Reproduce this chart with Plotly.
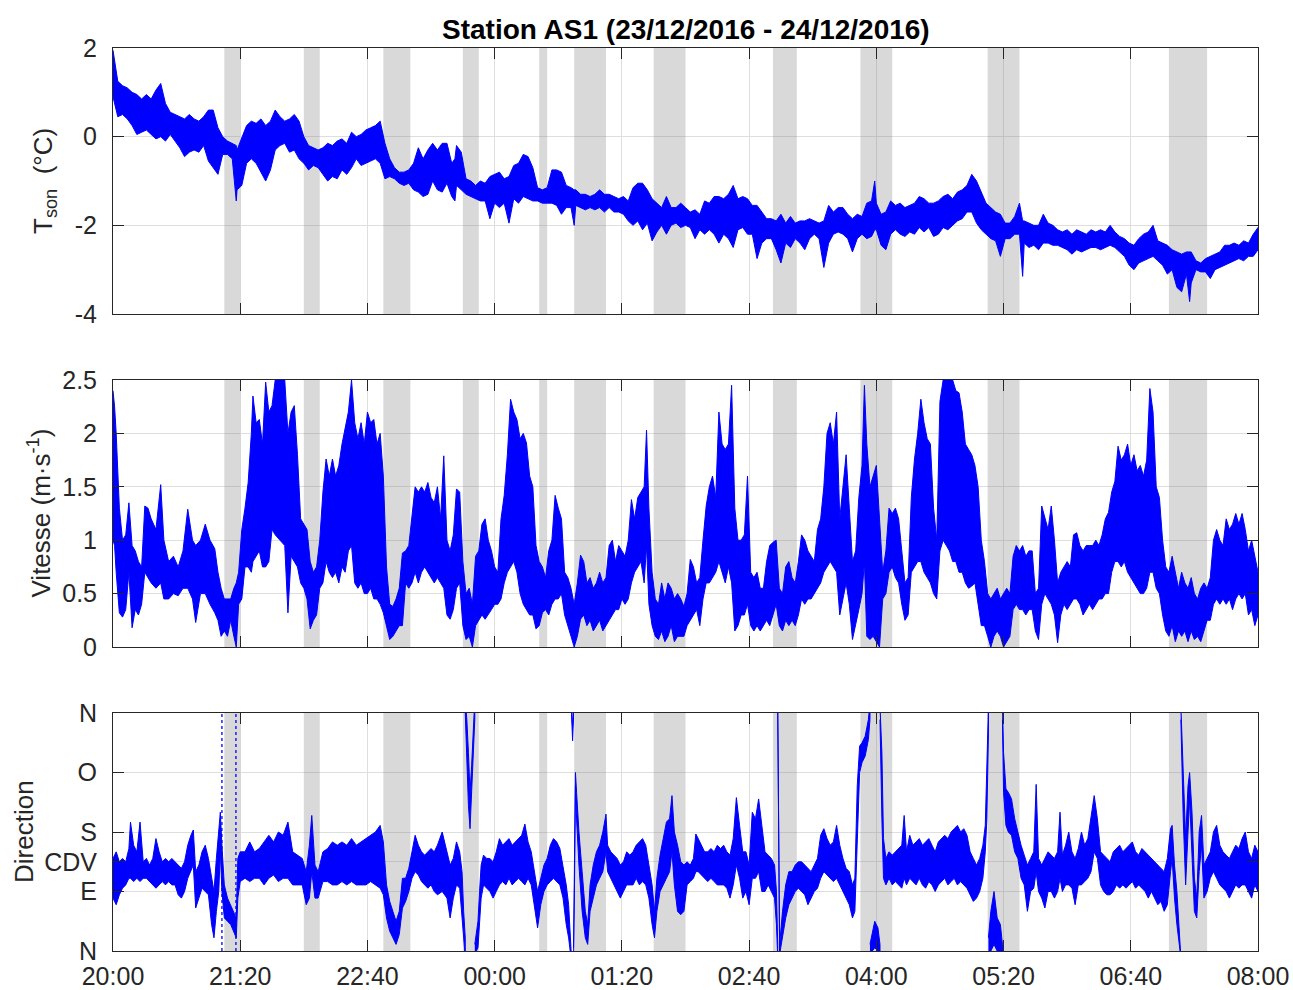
import plotly.graph_objects as go

# ---------------- data ----------------
# time in minutes after 20:00 (23/12/2016)
tick_minutes = [0, 80, 160, 240, 320, 400, 480, 560, 640, 720]
tick_labels = ["20:00", "21:20", "22:40", "00:00", "01:20", "02:40", "04:00", "05:20", "06:40", "08:00"]

# grey periods (minutes after 20:00)
gap_start = [70, 120, 170, 220, 268, 290, 340, 415, 470, 550, 664]
gap_end = [80, 130, 187, 230, 273, 310, 360, 430, 490, 570, 688]

# sonic temperature envelope (deg C)
temp_t = [0, 3, 6, 9, 12, 15, 18, 21, 24, 27,
          30, 33, 36, 39, 42, 45, 48, 51, 54, 57,
          60, 63, 66, 69, 72, 75, 77.5, 78, 81, 84,
          87, 90, 93, 96, 99, 102, 105, 108, 111, 114,
          117, 120, 123, 126, 129, 132, 135, 138, 141, 144,
          147, 150, 153, 156, 159, 162, 165, 168, 171, 174,
          177, 180, 183, 186, 189, 192, 195, 198, 201, 204,
          207, 210, 213, 215, 216, 219, 222, 225, 228, 231,
          234, 237, 240, 243, 246, 249, 252, 255, 258, 261,
          264, 267, 270, 273, 276, 279, 282, 285, 288, 290,
          291, 294, 297, 300, 303, 306, 309, 312, 315, 318,
          321, 324, 327, 330, 333, 336, 339, 342, 345, 348,
          351, 354, 357, 360, 363, 366, 369, 372, 375, 378,
          381, 384, 387, 390, 393, 396, 399, 402, 405, 408,
          411, 414, 417, 420, 423, 426, 429, 432, 435, 438,
          441, 444, 447, 450, 453, 456, 459, 462, 465, 468,
          471, 474, 477, 479, 480, 483, 486, 489, 492, 495,
          498, 501, 504, 507, 510, 513, 516, 519, 522, 525,
          528, 531, 534, 537, 540, 543, 546, 549, 552, 555,
          558, 561, 564, 567, 570, 572, 573, 576, 579, 582,
          585, 588, 591, 594, 597, 600, 603, 606, 609, 612,
          615, 618, 621, 624, 627, 630, 633, 636, 639, 642,
          645, 648, 651, 654, 657, 660, 663, 666, 669, 672,
          675, 677, 678, 681, 684, 687, 690, 693, 696, 699,
          702, 705, 708, 711, 714, 717, 720]
temp_lo = [0.9, 0.45, 0.5, 0.4, 0.25, 0.05, 0.1, 0.15, 0.05, -0.05,
           0.0, -0.1, 0.05, -0.1, -0.25, -0.45, -0.35, -0.3, -0.35, -0.2,
           -0.55, -0.7, -0.85, -0.4, -0.4, -0.5, -1.45, -1.2, -1.1, -0.6,
           -0.5, -0.6, -0.8, -1.0, -0.75, -0.3, -0.2, -0.15, -0.35, -0.3,
           -0.5, -0.6, -0.75, -0.65, -0.7, -0.85, -1.0, -0.9, -0.95, -0.75,
           -0.85, -0.7, -0.5, -0.65, -0.6, -0.55, -0.5, -0.6, -0.95, -0.9,
           -0.95, -1.05, -1.1, -1.05, -1.2, -1.25, -1.35, -1.3, -1.0, -1.2,
           -1.25, -1.05, -1.35, -1.45, -1.1, -1.2, -1.3, -1.35, -1.4, -1.45,
           -1.45, -1.85, -1.5, -1.6, -1.5, -1.95, -1.4, -1.5, -1.35, -1.4,
           -1.45, -1.45, -1.5, -1.5, -1.5, -1.55, -1.75, -1.6, -1.6, -2.0,
           -1.55, -1.6, -1.65, -1.6, -1.65, -1.6, -1.7, -1.6, -1.7, -1.7,
           -1.75, -1.9, -2.0, -1.9, -2.1, -1.95, -2.35, -2.15, -2.0, -2.2,
           -2.0, -1.95, -2.05, -2.0, -2.05, -2.3, -2.1, -2.2, -2.1, -2.2,
           -2.4, -2.2, -2.3, -2.5, -2.1, -2.05, -2.2, -2.2, -2.75, -2.4,
           -2.3, -2.3, -2.55, -2.85, -2.4, -2.5, -2.3, -2.4, -2.55, -2.3,
           -2.2, -2.3, -2.95, -2.4, -2.2, -2.15, -2.2, -2.3, -2.6, -2.3,
           -2.2, -2.3, -2.25, -2.1, -2.1, -2.45, -2.55, -2.2, -2.1, -2.2,
           -2.25, -2.15, -2.2, -2.05, -2.15, -2.05, -2.25, -2.2, -2.05, -2.1,
           -2.0, -1.9, -1.85, -1.7, -1.7, -1.95, -2.1, -2.2, -2.3, -2.35,
           -2.7, -2.3, -2.3, -2.2, -2.2, -3.15, -2.4, -2.5, -2.45, -2.55,
           -2.4, -2.4, -2.45, -2.45, -2.5, -2.55, -2.65, -2.55, -2.6, -2.55,
           -2.5, -2.5, -2.55, -2.5, -2.45, -2.5, -2.6, -2.7, -2.9, -3.0,
           -2.85, -2.8, -2.75, -2.7, -2.8, -2.9, -3.1, -3.0, -3.4, -3.5,
           -3.1, -3.72, -3.3, -3.0, -3.05, -3.05, -3.2, -3.0, -2.95, -2.9,
           -2.85, -2.8, -2.75, -2.8, -2.7, -2.7, -2.55]
temp_hi = [1.95, 1.25, 1.15, 1.1, 1.0, 0.95, 0.85, 0.95, 0.85, 1.05,
           1.2, 0.75, 0.55, 0.5, 0.45, 0.4, 0.5, 0.4, 0.35, 0.45,
           0.6, 0.6, 0.2, 0.0, -0.1, -0.15, -0.2, -0.3, 0.0, 0.25,
           0.35, 0.3, 0.4, 0.25, 0.35, 0.6, 0.45, 0.35, 0.4, 0.5,
           0.35, 0.0, -0.2, -0.25, -0.3, -0.25, -0.15, -0.2, -0.1, -0.05,
           -0.15, 0.1, 0.0, 0.05, 0.15, 0.2, 0.25, 0.35, -0.15, -0.5,
           -0.7, -0.8, -0.8, -0.75, -0.6, -0.25, -0.5, -0.3, -0.15, -0.3,
           -0.15, -0.15, -0.6, -0.5, -0.2, -0.35, -0.95, -1.0, -1.1, -1.0,
           -1.05, -0.9, -0.85, -0.8, -0.95, -0.9, -0.65, -0.6, -0.4, -0.45,
           -0.7, -1.15, -1.2, -1.15, -0.75, -0.75, -0.8, -1.1, -1.15, -1.2,
           -1.2, -1.3, -1.3, -1.35, -1.3, -1.2, -1.3, -1.3, -1.35, -1.4,
           -1.35, -1.45, -1.15, -1.05, -1.05, -1.2, -1.4, -1.5, -1.6, -1.35,
           -1.6, -1.6, -1.5, -1.6, -1.7, -1.65, -1.75, -1.45, -1.5, -1.35,
           -1.35, -1.4, -1.3, -1.1, -1.4, -1.35, -1.4, -1.55, -1.55, -1.7,
           -1.85, -1.85, -1.9, -1.75, -1.95, -1.8, -1.95, -1.9, -1.9, -1.85,
           -1.9, -1.95, -1.9, -1.55, -1.7, -1.6, -1.6, -1.75, -1.85, -1.75,
           -1.8, -1.5, -1.45, -1.0, -1.5, -1.75, -1.7, -1.45, -1.55, -1.5,
           -1.6, -1.55, -1.5, -1.35, -1.4, -1.5, -1.5, -1.45, -1.35, -1.3,
           -1.4, -1.25, -1.2, -1.1, -0.85, -1.0, -1.25, -1.5, -1.6, -1.7,
           -1.75, -1.95, -1.95, -1.8, -1.5, -1.9, -1.9, -1.95, -2.0, -2.0,
           -1.75, -1.95, -2.0, -2.1, -2.15, -2.1, -2.2, -2.1, -2.15, -2.2,
           -2.1, -2.15, -2.1, -2.15, -2.0, -2.15, -2.25, -2.3, -2.4, -2.45,
           -2.3, -2.2, -2.15, -2.0, -2.35, -2.4, -2.45, -2.55, -2.6, -2.65,
           -2.6, -2.6, -2.6, -2.8, -2.85, -2.75, -2.7, -2.65, -2.6, -2.45,
           -2.45, -2.4, -2.45, -2.35, -2.4, -2.2, -2.05]

# wind speed envelope (m/s)
speed_t = [0, 1, 2, 4, 6, 8, 10, 12, 14, 16,
           18, 20, 22, 24, 27, 30, 32, 35, 38, 41,
           44, 47, 50, 52, 55, 58, 61, 64, 66, 68,
           70, 72, 74, 76, 77.5, 79, 81, 83, 85, 87,
           88, 90, 92, 94, 96, 98, 100, 102, 105, 108,
           110, 112, 114, 116, 118, 120, 122, 124, 126, 128,
           130, 132, 134, 136, 138, 140, 142, 144, 146, 148,
           150, 152, 154, 156, 158, 160, 162, 164, 166, 168,
           170, 172, 174, 176, 178, 180, 182, 184, 186, 188,
           190, 192, 194, 196, 198, 200, 202, 204, 206, 208,
           210, 212, 214, 216, 218, 220, 222, 224, 226, 228,
           230, 232, 234, 236, 238, 240, 242, 244, 246, 248,
           250, 252, 254, 256, 258, 260, 262, 264, 266, 268,
           270, 272, 274, 276, 278, 280, 282, 284, 286, 288,
           290, 292, 294, 296, 298, 300, 302, 304, 306, 308,
           310, 312, 314, 316, 318, 320, 322, 324, 326, 328,
           330, 332, 334, 335.5, 337, 339, 341, 343, 345, 347,
           349, 351, 353, 355, 357, 359, 361, 363, 365, 367,
           369, 371, 373, 375, 377, 379, 381, 383, 385, 387,
           389, 391, 393, 395, 397, 399, 401, 403, 405, 407,
           409, 411, 413, 415, 417, 419, 421, 423, 425, 427,
           429, 431, 433, 435, 437, 439, 441, 443, 445, 447,
           449, 451, 453, 455, 457, 459, 461, 463, 465, 467,
           469, 471, 472.5, 474, 476, 478, 480, 482, 484, 486,
           488, 490, 492, 494, 496, 498, 500, 502, 504, 506,
           508, 510, 512, 514, 516, 518, 520, 522, 524, 526,
           528, 530, 532, 534, 536, 538, 540, 542, 544, 546,
           548, 550, 552, 554, 556, 558, 560, 562, 564, 566,
           568, 570, 572, 574, 576, 578, 580, 582, 584, 586,
           588, 590, 592, 594, 596, 598, 600, 602, 604, 606,
           608, 610, 612, 614, 616, 618, 620, 622, 624, 626,
           628, 630, 632, 634, 636, 638, 640, 642, 644, 646,
           648, 650, 652, 654, 656, 658, 660, 662, 664, 666,
           668, 670, 672, 674, 676, 678, 680, 682, 684, 686,
           688, 690, 692, 694, 696, 698, 700, 702, 704, 706,
           708, 710, 712, 714, 716, 718, 720]
speed_lo = [1.0, 0.95, 0.7, 0.32, 0.28, 0.35, 0.7, 0.18, 0.35, 0.3,
            0.4, 0.7, 0.65, 0.6, 0.55, 0.6, 0.45, 0.45, 0.5, 0.48,
            0.55, 0.55, 0.45, 0.23, 0.5, 0.5, 0.4, 0.32, 0.25, 0.1,
            0.15, 0.1, 0.25, 0.1, 0.0, 0.4, 0.45, 0.75, 0.75, 0.7,
            0.8, 0.85, 0.9, 0.75, 0.75, 0.8, 1.1, 1.05, 1.0, 0.95,
            0.32, 0.85, 0.8, 0.75, 0.6, 0.55, 0.45, 0.17, 0.25, 0.3,
            0.55, 0.6, 0.8, 0.7, 0.65, 0.7, 0.6, 0.75, 0.7, 0.9,
            0.95, 0.6, 0.55, 0.6, 0.5, 0.5, 0.55, 0.45, 0.45, 0.4,
            0.32, 0.2, 0.07, 0.1, 0.15, 0.2, 0.2, 0.6, 0.55, 0.6,
            0.7, 0.6, 0.7, 0.75, 0.7, 0.65, 0.6, 0.65, 0.6, 0.55,
            0.3, 0.26, 0.35, 0.55, 0.6, 0.2, 0.07, 0.1, 0.0, 0.2,
            0.25, 0.3, 0.26, 0.3, 0.35, 0.4, 0.4, 0.45, 0.6, 0.7,
            0.75, 0.8, 0.7, 0.5, 0.4, 0.35, 0.3, 0.3, 0.17, 0.2,
            0.32, 0.35, 0.3, 0.4, 0.45, 0.45, 0.5, 0.3, 0.2, 0.1,
            0.0, 0.1, 0.26, 0.3, 0.2, 0.25, 0.15, 0.2, 0.25, 0.15,
            0.2, 0.25, 0.3, 0.35, 0.35, 0.45, 0.4, 0.45, 0.6, 0.7,
            0.75, 0.8, 0.6, 0.95, 0.4, 0.2, 0.1, 0.07, 0.15, 0.05,
            0.1, 0.2, 0.05, 0.1, 0.1, 0.1, 0.2, 0.25, 0.3, 0.35,
            0.2, 0.45, 0.6, 0.6, 0.65, 0.7, 0.8, 0.7, 0.6, 0.75,
            0.6, 0.15, 0.2, 0.3, 0.3, 0.4, 0.2, 0.15, 0.2, 0.15,
            0.2, 0.25, 0.2, 0.3, 0.4, 0.2, 0.15, 0.25, 0.2, 0.25,
            0.2, 0.3, 0.45, 0.4, 0.45, 0.45, 0.5, 0.55, 0.6, 0.7,
            0.75, 0.8, 0.75, 0.7, 0.3, 0.45, 0.6, 0.4, 0.07, 0.2,
            0.35, 0.5, 0.8, 0.1, 0.07, 0.1, 0.05, 0.0, 0.45, 0.5,
            0.7, 0.75, 0.65, 0.6, 0.4, 0.25, 0.3, 0.7, 0.75, 0.8,
            0.8, 0.7, 0.65, 0.6, 0.5, 0.45, 0.9, 1.0, 0.95, 0.9,
            0.8, 0.8, 0.7, 0.7, 0.6, 0.55, 0.57, 0.6, 0.4, 0.2,
            0.2, 0.1, 0.0, 0.1, 0.15, 0.1, 0.0, 0.05, 0.1, 0.35,
            0.4, 0.35, 0.35, 0.3, 0.35, 0.35, 0.15, 0.07, 0.4, 0.5,
            0.45, 0.4, 0.3, 0.04, 0.3, 0.4, 0.35, 0.4, 0.45, 0.45,
            0.4, 0.3, 0.35, 0.4, 0.35, 0.4, 0.45, 0.45, 0.5, 0.5,
            0.7, 0.8, 0.8, 0.75, 0.8, 0.7, 0.65, 0.6, 0.55, 0.5,
            0.5, 0.55, 0.7, 0.7, 0.55, 0.5, 0.3, 0.15, 0.1, 0.2,
            0.05, 0.15, 0.1, 0.15, 0.05, 0.15, 0.07, 0.1, 0.05, 0.15,
            0.25, 0.25, 0.4, 0.45, 0.4, 0.45, 0.4, 0.45, 0.35, 0.45,
            0.5, 0.45, 0.5, 0.3, 0.35, 0.2, 0.3]
speed_hi = [2.4, 2.25, 2.0, 1.3, 1.0, 1.05, 1.35, 0.95, 0.9, 0.8,
            0.75, 1.32, 1.3, 1.2, 1.1, 1.52, 1.0, 0.8, 0.85, 0.75,
            0.9, 1.29, 1.0, 0.95, 1.0, 1.15, 1.0, 0.92, 0.7, 0.55,
            0.45, 0.45, 0.45, 0.55, 0.6, 0.7, 1.1, 1.3, 1.54, 2.0,
            2.35, 2.1, 2.13, 1.9, 2.48, 2.2, 2.26, 2.5, 2.5, 2.5,
            2.0, 2.2, 2.26, 1.8, 1.2, 1.15, 1.1, 0.8, 0.7, 0.75,
            1.0, 1.45, 1.76, 1.6, 1.76, 1.6, 1.7, 1.9, 2.04, 2.2,
            2.5, 2.1, 1.95, 2.1, 1.9, 2.2, 2.1, 2.13, 1.9, 2.0,
            1.6, 0.75, 0.4, 0.38, 0.45, 0.55, 0.88, 0.9, 0.95, 1.2,
            1.5, 1.45, 1.5, 1.45, 1.54, 1.4, 1.35, 1.5, 1.2, 1.79,
            1.0, 0.9, 1.05, 1.48, 1.45, 0.8, 0.5, 0.55, 0.4, 0.85,
            0.9, 1.15, 1.2, 1.0, 0.9, 0.75, 0.7, 1.2, 1.42, 1.8,
            2.32, 2.2, 2.13, 1.95, 2.0, 1.91, 1.6, 1.5, 0.95, 0.8,
            0.75, 0.65, 0.9, 1.0, 1.42, 1.3, 1.2, 0.7, 0.65, 0.55,
            0.4, 0.6, 0.86, 0.8, 0.6, 0.65, 0.55, 0.6, 0.7, 0.6,
            0.65, 0.95, 1.0, 0.8, 0.95, 0.9, 0.85, 1.0, 1.38, 1.2,
            1.4, 1.45, 1.5, 2.03, 1.3, 0.7, 0.45, 0.4, 0.6, 0.45,
            0.6, 0.55, 0.45, 0.5, 0.45, 0.38, 0.5, 0.82, 0.75, 0.6,
            0.65, 1.0, 1.32, 1.5, 1.6, 1.4, 2.2, 1.9, 1.85, 1.9,
            2.45, 1.3, 1.0, 1.0, 1.05, 1.6, 0.7, 0.65, 0.7, 0.55,
            0.55, 0.8, 0.95, 0.98, 1.0, 0.55, 0.5, 0.75, 0.8, 0.65,
            0.6, 0.8, 1.05, 1.0, 0.9, 0.85, 0.8, 1.1, 1.2, 1.5,
            2.0, 2.1, 1.9, 2.2, 1.2, 1.5, 1.8, 1.3, 0.8, 0.9,
            1.4, 1.7, 2.45, 1.9, 1.5, 1.6, 1.7, 1.2, 0.7, 0.9,
            1.3, 1.25, 1.3, 1.2, 0.9, 0.6, 0.65, 1.4, 1.76, 2.0,
            2.32, 2.1, 1.95, 1.9, 1.3, 1.0, 2.3, 2.5, 2.5, 2.5,
            2.5, 2.4, 2.38, 2.2, 1.9, 1.85, 1.8, 1.7, 1.5, 1.0,
            0.8, 0.5, 0.45, 0.5, 0.55, 0.45, 0.5, 0.55, 0.5, 0.85,
            0.95, 0.9, 0.95, 0.85, 0.9, 0.9, 0.5, 0.55, 1.32, 1.2,
            1.1, 1.32, 1.0, 0.6, 0.7, 0.75, 0.8, 0.75, 1.05, 1.07,
            0.95, 0.9, 0.95, 0.95, 0.95, 1.0, 0.95, 1.05, 1.2, 1.26,
            1.45, 1.55, 1.88, 1.75, 1.8, 1.9, 1.7, 1.8, 1.65, 1.7,
            1.6, 1.75, 2.42, 2.2, 1.5, 1.4, 1.0, 0.75, 0.7, 0.85,
            0.7, 0.55, 0.7, 0.6, 0.55, 0.65, 0.5, 0.45, 0.55, 0.6,
            0.55, 0.65, 1.0, 1.1, 1.0, 0.95, 1.2, 1.1, 1.15, 1.25,
            1.15, 1.25, 1.1, 0.9, 1.0, 0.85, 0.7]

# wind direction envelope (deg, 0 = N, 90 = E, 180 = S, 270 = O); None = wrap break
dir_t = [0, 2, 4, 6, 8, 10, 11, 13, 15, 17,
         19, 21, 23, 25, 27, 29, 31, 33, 35, 37,
         39, 41, 43, 45, 47, 49, 50.5, 52, 54, 56,
         58, 60, 62, 63.5, 65, 66.5, 67.5, 68.5, 70, 72,
         74, 76, 77.5, 78.5, 80, 83, 86, 89, 92, 95,
         98, 101, 104, 107, 110, 113, 116, 119, 121.5, 123.5,
         125, 127, 129, 132, 135, 138, 141, 144, 147, 150,
         153, 156, 159, 162, 165, 168, 170, 172, 174, 176,
         178, 180, 182, 184, 186, 188, 190, 192, 194, 196,
         198, 200, 202, 204, 207, 210, 212, 214, 216, 218,
         219.5, 220.5, 221.5, None,
         221.5, 222.5, 223.5, 224.5, 225.5, 226.5, 227.5, None,
         227.5, 228.5, 229.5, 230.5, 231.5, 233, 235, 237, 239, 241,
         243, 245, 247, 249, 251, 253, 255, 257, 259, 261,
         263, 265, 267, 269, 271, 273, 275, 277, 279, 281,
         283, 285, 286.5, 287.5, 288.3, None,
         288.3, 289, 289.6, None,
         289.6, 290.2, 290.8, 291.5, 293, 295, 297, 298.5, 300, 302,
         304, 306, 308, 310, 311, 313, 315, 317, 319, 321,
         323, 325, 327, 329, 331, 333, 335, 337, 339, 340.5,
         342, 344, 346, 348, 350, 351.5, 353, 355, 357, 359,
         361, 363, 365, 366.5, 368, 370, 372, 374, 376, 378,
         380, 382, 384, 386, 388, 390, 392, 394, 396, 398,
         400, 402, 404, 406, 408, 410, 412, 414, 416, 417.2,
         418, None,
         418, 419.2, None,
         419.2, 421, 423, 425, 427, 429, 431, 433, 435, 437,
         439, 441, 443, 445, 447, 449, 451, 453, 455, 457,
         459, 461, 463, 465, 466.5, 468, 469.5, 471, 473, 475,
         476, None,
         476, 477.5, 479, 481, 482.3, None,
         482.3, 483.5, 484.5, 486, 488, 490, 492, 494, 496, 497.5,
         499, 501, 503, 505, 507, 509, 511, 513, 515, 517,
         519, 521, 523, 525, 527, 529, 531, 533, 535, 537,
         539, 541, 543, 545, 547, 548.5, 549.5, 550.5, None,
         550.5, 552, 554, 556, 558, 559.3, None,
         559.3, 560, 561.5, 563, 565, 567, 569, 571, 573, 575,
         577, 579, 580.5, 582, 584, 586, 588, 590, 592, 594,
         595.5, 597, 599, 601, 603, 605, 607, 609, 611, 613,
         615, 617, 619, 621, 623, 625, 627, 629, 631, 633,
         635, 637, 639, 641, 643, 645, 647, 649, 651, 653,
         655, 657, 659, 661, 663, 665, 666, 667.5, 669, 670.5,
         671.5, None,
         671.5, 673, 674.5, 676, 677, 678.5, 680, 681.5, 683, 684.5,
         686, 688, 690, 692, 694, 696, 698, 700, 702, 704,
         706, 708, 710, 712, 714, 716, 718, 720]
dir_lo = [80, 70, 85, 95, 100, 110, 110, 105, 110, 105,
          110, 110, 105, 100, 95, 100, 105, 100, 105, 100,
          100, 85, 80, 90, 110, 120, 130, 65, 80, 95,
          90, 85, 40, 20, 60, 90, 150, 90, 50, 45,
          40, 30, 20, 80, 105, 110, 105, 110, 110, 100,
          110, 115, 105, 110, 110, 100, 100, 100, 70, 80,
          120, 80, 80, 105, 105, 100, 100, 105, 100, 105,
          100, 100, 100, 105, 100, 95, 85, 50, 30, 20,
          10, 25, 65, 75, 90, 110, 120, 115, 105, 100,
          95, 100, 90, 85, 90, 80, 50, 80, 100, 95,
          60, 20, -10, None,
          360, 300, 220, 185, 220, 290, 350, None,
          -20, 0, 5, 40, 80, 100, 95, 90, 80, 90,
          100, 105, 100, 110, 100, 105, 110, 105, 100, 110,
          100, 70, 35, 70, 90, 100, 105, 110, 105, 100,
          80, 40, 20, 0, -10, None,
          360, 318, 355, None,
          -10, 100, 250, 200, 130, 60, 20, 10, 60, 80,
          100, 110, 120, 150, 120, 110, 100, 90, 80, 90,
          100, 100, 100, 110, 100, 105, 100, 80, 40, 20,
          60, 90, 100, 110, 120, 150, 100, 60, 55, 60,
          100, 105, 110, 120, 120, 115, 110, 105, 110, 105,
          100, 100, 100, 95, 80, 100, 130, 110, 80, 90,
          70, 110, 110, 120, 90, 90, 100, 90, 80, 40,
          -10, None,
          360, -5, None,
          -5, 20, 50, 70, 80, 90, 95, 90, 85, 70,
          80, 90, 95, 110, 120, 115, 110, 105, 110, 100,
          90, 80, 70, 50, 60, 160, 270, 285, 295, 320,
          350, None,
          -15, 0, 5, 0, -10, None,
          350, 200, 110, 100, 110, 100, 105, 100, 95, 110,
          100, 110, 105, 100, 110, 100, 95, 105, 100, 90,
          100, 105, 110, 100, 105, 110, 100, 105, 100, 95,
          85, 75, 80, 90, 110, 150, 200, 330, None,
          -10, 0, 10, 0, 0, -10, None,
          350, 240, 190, 180, 175, 150, 140, 110, 100, 60,
          90, 95, 120, 90, 80, 65, 90, 90, 80, 90,
          110, 90, 100, 100, 95, 70, 100, 100, 105, 110,
          120, 150, 140, 100, 90, 85, 85, 90, 100, 95,
          100, 95, 100, 105, 95, 100, 95, 90, 80, 90,
          80, 70, 75, 60, 70, 120, 140, 80, 40, 10,
          -10, None,
          350, 200, 100, 180, 230, 150, 60, 50, 120, 160,
          80, 90, 110, 120, 110, 100, 95, 90, 80, 90,
          100, 95, 100, 100, 90, 80, 100, 90]
dir_hi = [140, 150, 135, 140, 135, 155, 195, 160, 150, 195,
          135, 140, 130, 140, 170, 150, 135, 140, 135, 140,
          135, 130, 125, 135, 160, 175, 183, 120, 130, 150,
          160, 140, 110, 90, 140, 180, 210, 160, 100, 80,
          70, 60, 50, 140, 150, 150, 165, 150, 155, 165,
          175, 165, 180, 175, 195, 150, 145, 140, 120, 160,
          205, 130, 120, 150, 155, 165, 160, 165, 160, 170,
          160, 165, 170, 175, 180, 190, 165, 100, 75, 60,
          45, 60, 110, 110, 125, 150, 175, 160, 150, 145,
          150, 155, 150, 160, 180, 150, 130, 140, 165, 150,
          120, 60, 20, None,
          380, 350, 300, 240, 280, 340, 380, None,
          10, 30, 45, 90, 130, 145, 140, 140, 135, 150,
          170, 160, 165, 170, 160, 165, 170, 175, 192, 165,
          150, 120, 90, 110, 130, 140, 160, 170, 165, 155,
          130, 100, 70, 30, 5, None,
          370, 340, 370, None,
          5, 150, 270, 240, 180, 120, 60, 40, 100, 130,
          150, 160, 180, 207, 160, 150, 145, 140, 130, 135,
          150, 145, 150, 160, 165, 170, 160, 130, 100, 60,
          110, 145, 170, 195, 200, 235, 180, 160, 135, 130,
          135, 130, 140, 177, 170, 160, 150, 150, 155, 150,
          160, 155, 160, 150, 145, 170, 232, 190, 150, 150,
          130, 210, 200, 230, 190, 150, 145, 140, 130, 90,
          10, None,
          372, 0, None,
          10, 60, 100, 120, 120, 130, 135, 135, 130, 125,
          120, 130, 140, 175, 185, 170, 160, 165, 190, 160,
          140, 125, 120, 100, 110, 250, 310, 315, 325, 350,
          375, None,
          10, 30, 45, 35, 10, None,
          370, 300, 170, 140, 150, 145, 150, 155, 160, 205,
          150, 175, 160, 165, 170, 160, 165, 170, 160, 150,
          165, 170, 175, 170, 180, 185, 190, 180, 185, 175,
          150, 140, 130, 140, 160, 190, 270, 370, None,
          20, 60, 90, 50, 40, 10, None,
          370, 300, 245, 240, 230, 200, 180, 160, 145, 130,
          140, 150, 252, 140, 130, 140, 150, 145, 140, 150,
          210, 145, 160, 180, 150, 140, 155, 180, 160, 170,
          200, 235, 200, 150, 145, 140, 135, 150, 155, 160,
          150, 155, 160, 165, 150, 145, 155, 150, 145, 140,
          135, 130, 125, 120, 140, 185, 190, 130, 90, 40,
          10, None,
          370, 280, 170, 250, 270, 210, 110, 80, 180, 205,
          130, 140, 150, 180, 190, 160, 150, 145, 140, 150,
          160, 155, 170, 180, 150, 140, 160, 150]

# isolated columns of scattered direction samples (minutes)
dir_dot_t = [68.5, 77.3]

temp_ticks = [-4, -2, 0, 2]
temp_tick_labels = ["-4", "-2", "0", "2"]
speed_ticks = [0, 0.5, 1, 1.5, 2, 2.5]
speed_tick_labels = ["0", "0.5", "1", "1.5", "2", "2.5"]
dir_ticks = [0, 90, 135, 180, 270, 360]
dir_tick_labels = ["N", "E", "CDV", "S", "O", "N"]

# ---------------- helpers ----------------
for name, a, b, c in [("temp", temp_t, temp_lo, temp_hi),
                      ("speed", speed_t, speed_lo, speed_hi),
                      ("dir", dir_t, dir_lo, dir_hi)]:
    if not (len(a) == len(b) == len(c)):
        raise ValueError(f"{name}: {len(a)} {len(b)} {len(c)}")


def band_polygon(t, lo, hi):
    xs, ys = [], []
    seg = []
    for a, b, c in list(zip(t, lo, hi)) + [(None, None, None)]:
        if a is None:
            if seg:
                st = [s[0] for s in seg]
                sl = [s[1] for s in seg]
                sh = [s[2] for s in seg]
                xs += st + st[::-1] + [None]
                ys += sh + sl[::-1] + [None]
            seg = []
        else:
            seg.append((a, b, c))
    return xs, ys


BLUE = "#0000ff"
FONT = "Liberation Sans, Arial, Helvetica, sans-serif"
AXC = "#262626"

W, H = 1293, 990


def px_x(x):
    return x / W


def px_y(y):
    return 1 - y / H


xdom = [px_x(113), px_x(1258)]
ydoms = [[px_y(314), px_y(48)], [px_y(647), px_y(380)], [px_y(951), px_y(713)]]

fig = go.Figure()
panels = [("x", "y", temp_t, temp_lo, temp_hi, temp_ticks),
          ("x2", "y2", speed_t, speed_lo, speed_hi, speed_ticks),
          ("x3", "y3", dir_t, dir_lo, dir_hi, dir_ticks)]

# grey periods (drawn above grid, below data)
for xa, ya, t, lo, hi, ticks in panels:
    gx, gy = [], []
    for s, e in zip(gap_start, gap_end):
        gx += [s, e, e, s, s, None]
        gy += [ticks[0], ticks[0], ticks[-1], ticks[-1], ticks[0], None]
    fig.add_trace(go.Scatter(x=gx, y=gy, mode="lines", fill="toself",
                             fillcolor="rgba(128,128,128,0.3)", line=dict(width=0),
                             xaxis=xa, yaxis=ya, hoverinfo="skip", showlegend=False))

for xa, ya, t, lo, hi, ticks in panels:
    xs, ys = band_polygon(t, lo, hi)
    fig.add_trace(go.Scatter(x=xs, y=ys, mode="lines", fill="toself",
                             fillcolor=BLUE, line=dict(color=BLUE, width=1),
                             xaxis=xa, yaxis=ya, hoverinfo="skip", showlegend=False))

dx, dy = [], []
for t in dir_dot_t:
    dx += [t, t, None]
    dy += [dir_ticks[0], dir_ticks[-1], None]
fig.add_trace(go.Scatter(x=dx, y=dy, mode="lines", line=dict(color=BLUE, width=1.3, dash="dot"),
                         xaxis="x3", yaxis="y3", hoverinfo="skip", showlegend=False))


def xaxis(anchor, labels):
    return dict(domain=xdom, anchor=anchor, range=[tick_minutes[0], tick_minutes[-1]],
                tickmode="array", tickvals=tick_minutes, ticktext=tick_labels,
                showticklabels=labels, ticks="inside", ticklen=11, tickwidth=1, tickcolor=AXC,
                showline=True, linecolor=AXC, linewidth=1, mirror="ticks",
                showgrid=True, gridcolor="#dedede", gridwidth=1, zeroline=False,
                tickfont=dict(family=FONT, size=25, color=AXC), ticklabelstandoff=3,
                automargin=False)


def yaxis(anchor, dom, rng, vals, labels):
    return dict(domain=dom, anchor=anchor, range=rng, tickmode="array", tickvals=vals, ticktext=labels,
                ticks="inside", ticklen=11, tickwidth=1, tickcolor=AXC,
                showline=True, linecolor=AXC, linewidth=1, mirror="ticks",
                showgrid=True, gridcolor="#dedede", gridwidth=1, zeroline=False,
                tickfont=dict(family=FONT, size=25, color=AXC), ticklabelstandoff=10,
                automargin=False)


layout = dict(
    width=W, height=H, margin=dict(l=0, r=0, t=0, b=0),
    paper_bgcolor="white", plot_bgcolor="white", showlegend=False,
    xaxis=xaxis("y", False), xaxis2=xaxis("y2", False), xaxis3=xaxis("y3", True),
    yaxis=yaxis("x", ydoms[0], [temp_ticks[0], temp_ticks[-1]], temp_ticks, temp_tick_labels),
    yaxis2=yaxis("x2", ydoms[1], [speed_ticks[0], speed_ticks[-1]], speed_ticks, speed_tick_labels),
    yaxis3=yaxis("x3", ydoms[2], [dir_ticks[0], dir_ticks[-1]], dir_ticks, dir_tick_labels),
    annotations=[
        dict(text="<b>Station AS1 (23/12/2016 - 24/12/2016)</b>", xref="paper", yref="paper",
             x=(xdom[0] + xdom[1]) / 2, y=px_y(30), xanchor="center", yanchor="middle",
             showarrow=False, font=dict(family=FONT, size=28, color="black")),
        dict(text="T<sub>son</sub>  (°C)", xref="paper", yref="paper", x=px_x(45),
             y=(ydoms[0][0] + ydoms[0][1]) / 2, xanchor="center", yanchor="middle", textangle=-90,
             showarrow=False, font=dict(family=FONT, size=26, color=AXC)),
        dict(text="Vitesse (m·s<sup>-1</sup>)", xref="paper", yref="paper", x=px_x(40),
             y=(ydoms[1][0] + ydoms[1][1]) / 2, xanchor="center", yanchor="middle", textangle=-90,
             showarrow=False, font=dict(family=FONT, size=26, color=AXC)),
        dict(text="Direction", xref="paper", yref="paper", x=px_x(24),
             y=(ydoms[2][0] + ydoms[2][1]) / 2, xanchor="center", yanchor="middle", textangle=-90,
             showarrow=False, font=dict(family=FONT, size=26, color=AXC)),
    ],
)
fig.update_layout(**layout)
# the page is photographed at 1293x990: drop the default body margin so the figure fills it
fig.write_html("out.html", config={"displayModeBar": False},
               post_script="document.body.style.margin='0';document.body.style.overflow='hidden';")
